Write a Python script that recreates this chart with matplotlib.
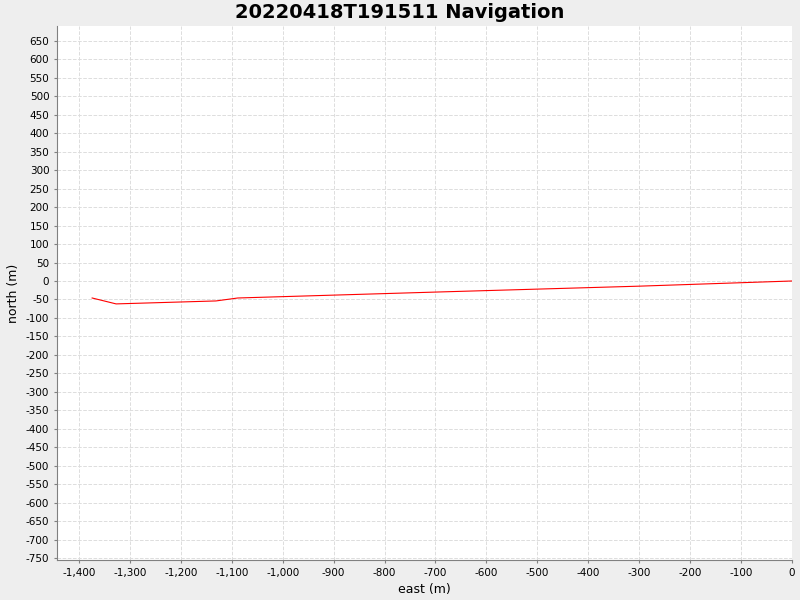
import matplotlib
matplotlib.use('Agg')
import matplotlib.pyplot as plt
import numpy as np
from matplotlib.ticker import FuncFormatter, MultipleLocator

# --- Datos de navegación ---
EAST = [-1374, -1327, -1131, -1088, -700, -300, 0]
NORTH = [-46, -62, -54, -46, -30, -14, 0]

fig = plt.figure(figsize=(8, 6), dpi=100, facecolor='#eeeeee')
ax = fig.add_axes([57 / 800, 40 / 600, 735 / 800, 534 / 600])
ax.set_facecolor('white')

ax.plot(EAST, NORTH, color='#ff0000', linewidth=0.8)

ax.set_xlim(-1443, 0)
ax.set_ylim(-755, 690)
ax.xaxis.set_major_locator(MultipleLocator(100))
ax.yaxis.set_major_locator(MultipleLocator(50))
fmt = FuncFormatter(lambda v, _: f"{int(round(v)):,}")
ax.xaxis.set_major_formatter(fmt)
ax.yaxis.set_major_formatter(fmt)
ax.tick_params(labelsize=7.5, length=2, color='gray')
ax.grid(True, linestyle='--', color='#dddddd', linewidth=0.7)
for side in ('top', 'right'):
    ax.spines[side].set_visible(False)
for side in ('left', 'bottom'):
    ax.spines[side].set_color('gray')

ax.set_xlabel('east (m)', fontsize=9)
ax.set_ylabel('north (m)', fontsize=9)
fig.suptitle('20220418T191511 Navigation', fontsize=14, fontweight='bold', y=0.995)

fig.savefig('out.png', dpi=100, facecolor=fig.get_facecolor())
